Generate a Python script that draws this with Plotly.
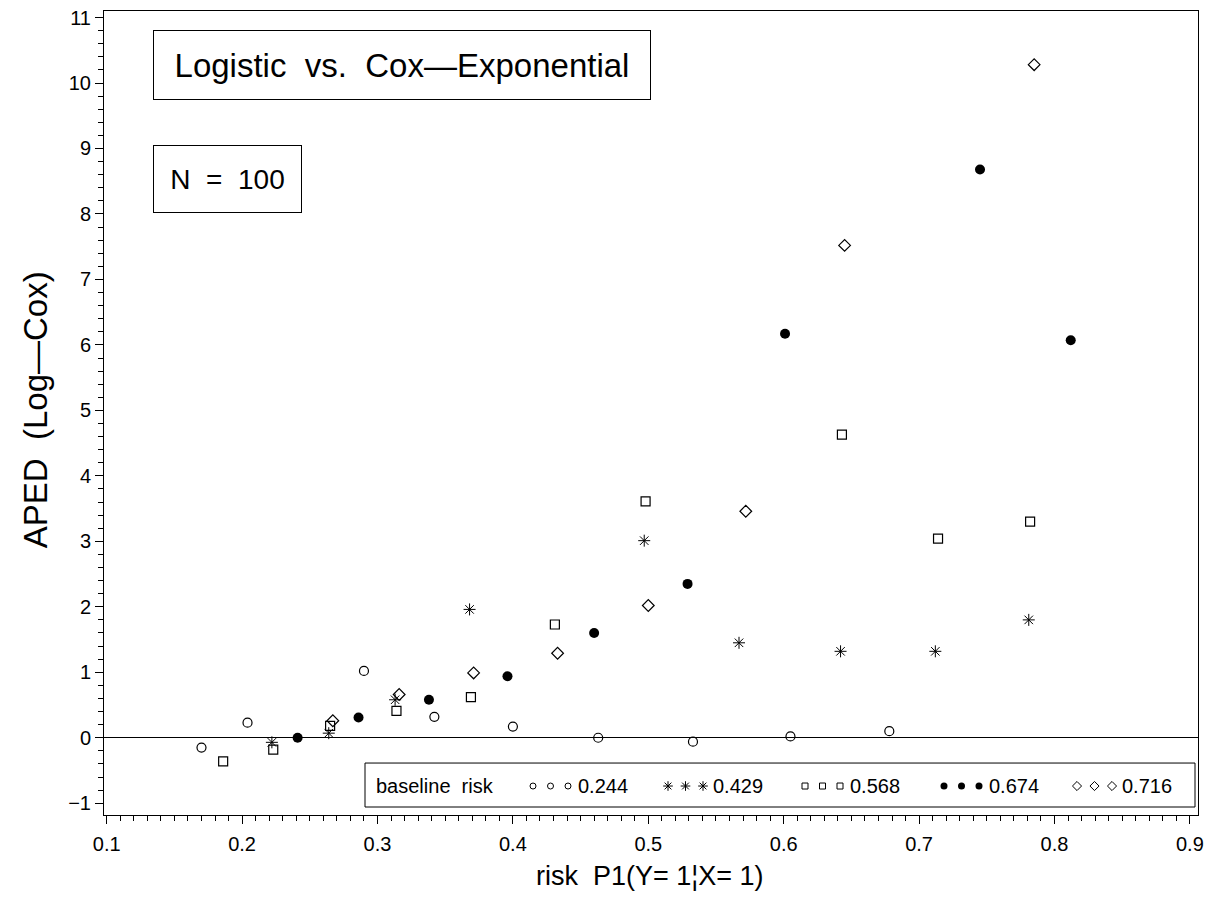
import plotly.graph_objects as go

# ---- data ----
baseline_labels = ["0.244", "0.429", "0.568", "0.674", "0.716"]

risk_0244 = [0.170, 0.204, 0.290, 0.342, 0.400, 0.463, 0.533, 0.605, 0.678]
aped_0244 = [-0.15, 0.23, 1.02, 0.32, 0.17, 0.00, -0.06, 0.02, 0.10]

risk_0429 = [0.222, 0.264, 0.313, 0.368, 0.497, 0.567, 0.642, 0.712, 0.781]
aped_0429 = [-0.07, 0.07, 0.58, 1.96, 3.01, 1.45, 1.32, 1.32, 1.80]

risk_0568 = [0.186, 0.223, 0.265, 0.314, 0.369, 0.431, 0.498, 0.643, 0.714, 0.782]
aped_0568 = [-0.36, -0.18, 0.18, 0.41, 0.62, 1.73, 3.61, 4.63, 3.04, 3.30]

risk_0674 = [0.241, 0.286, 0.338, 0.396, 0.460, 0.529, 0.601, 0.745, 0.812]
aped_0674 = [0.00, 0.31, 0.58, 0.94, 1.60, 2.35, 6.17, 8.68, 6.07]

risk_0716 = [0.267, 0.316, 0.371, 0.433, 0.500, 0.572, 0.645, 0.785]
aped_0716 = [0.26, 0.66, 0.99, 1.29, 2.02, 3.46, 7.52, 10.28]

x_ticks = [0.1, 0.2, 0.3, 0.4, 0.5, 0.6, 0.7, 0.8, 0.9]
y_ticks = list(range(-1, 12))

series = [
    (risk_0244, aped_0244, "circle-open", 9, 1.2),
    (risk_0429, aped_0429, "asterisk-open", 10, 1.0),
    (risk_0568, aped_0568, "square-open", 9, 1.2),
    (risk_0674, aped_0674, "circle", 10, 0),
    (risk_0716, aped_0716, "diamond-open", 9, 1.2),
]

FONT = "Liberation Sans, Arial, Helvetica, sans-serif"
OFF = 8  # page body margin offset
W, H = 1219 - OFF, 906 - OFF
FRAME_L, FRAME_R, FRAME_T, FRAME_B = 104, 1198, 10.5, 815  # in reference pixels
L, R, T, B = FRAME_L - OFF, 1219 - FRAME_R, FRAME_T - OFF, 906 - FRAME_B
pw, ph = W - L - R, H - T - B


def px_x(p):
    return (p - OFF - L) / pw


def px_y(p):
    return (H - B - (p - OFF)) / ph


fig = go.Figure()
for xs, ys, sym, size, lw in series:
    fig.add_trace(go.Scatter(
        x=xs, y=ys, mode="markers", showlegend=False,
        marker=dict(symbol=sym, size=size, color="black",
                    line=dict(color="black", width=lw)),
    ))

# ---- manual legend (three symbols per entry) on an overlay paper-like axis ----
leg_marker_start = [533, 668, 805, 944, 1077]
leg_step = 17.5
leg_sizes = [6, 8, 6, 7, 7]
leg_y_px = 786
for (xs, ys, sym, size, lw), start, lab, ms in zip(series, leg_marker_start, baseline_labels, leg_sizes):
    mx = [px_x(start + k * leg_step) for k in range(3)]
    fig.add_trace(go.Scatter(
        x=mx, y=[px_y(leg_y_px)] * 3, xaxis="x2", yaxis="y2",
        mode="markers", showlegend=False, hoverinfo="skip",
        marker=dict(symbol=sym, size=ms, color="black",
                    line=dict(color="black", width=1 if lw else 0)),
    ))
    fig.add_annotation(xref="paper", yref="paper",
                       x=px_x(start + 2 * leg_step + 8), y=px_y(leg_y_px),
                       xanchor="left", yanchor="middle", showarrow=False,
                       text=lab, font=dict(family=FONT, size=20, color="black"))

fig.add_annotation(xref="paper", yref="paper", x=px_x(374), y=px_y(leg_y_px),
                   xanchor="left", yanchor="middle", showarrow=False,
                   text="baseline  risk", font=dict(family=FONT, size=20, color="black"))
fig.add_shape(type="rect", xref="paper", yref="paper",
              x0=px_x(365), x1=px_x(1195), y0=px_y(807), y1=px_y(763),
              line=dict(color="black", width=1), fillcolor="white", layer="below")

# ---- title boxes ----
fig.add_annotation(xref="paper", yref="paper", x=px_x(153), y=px_y(30),
                   xanchor="left", yanchor="top", showarrow=False,
                   text="Logistic  vs.  Cox\u2014Exponential",
                   width=480, height=52, borderpad=8, bordercolor="black", borderwidth=1,
                   bgcolor="white", align="center", valign="middle",
                   font=dict(family=FONT, size=33, color="black"))
fig.add_annotation(xref="paper", yref="paper", x=px_x(153), y=px_y(145),
                   xanchor="left", yanchor="top", showarrow=False,
                   text="N  =  100",
                   width=131, height=50, borderpad=8, bordercolor="black", borderwidth=1,
                   bgcolor="white", align="center", valign="middle",
                   font=dict(family=FONT, size=28, color="black"))

# ---- axis titles ----
fig.add_annotation(xref="paper", yref="paper", x=px_x(35), y=px_y(410),
                   xanchor="center", yanchor="middle", showarrow=False, textangle=-90,
                   text="APED  (Log\u2014Cox)", font=dict(family=FONT, size=33, color="black"))
fig.add_annotation(xref="paper", yref="paper", x=px_x(650), y=px_y(876),
                   xanchor="center", yanchor="middle", showarrow=False,
                   text="risk  P1(Y= 1\u00a6X= 1)", font=dict(family=FONT, size=27, color="black"))

axis_common = dict(
    showline=True, linecolor="black", linewidth=1, mirror=True,
    ticks="outside", ticklen=8, tickwidth=1, tickcolor="black",
    showgrid=False, automargin=False, ticklabeloverflow="allow",
    tickfont=dict(family=FONT, size=20, color="black"),
)

fig.update_layout(
    width=W, height=H,
    margin=dict(l=L, r=R, t=T, b=B),
    paper_bgcolor="white", plot_bgcolor="white",
    showlegend=False,
    xaxis=dict(range=[0.098, 0.906], tickvals=x_ticks, ticktext=[f"{v:.1f}" for v in x_ticks],
               zeroline=False, ticklabelstandoff=3,
               minor=dict(dtick=0.01, tick0=0.1, ticks="outside", ticklen=5, tickcolor="black", showgrid=False),
               **axis_common),
    yaxis=dict(range=[-1.18, 11.1], tickvals=y_ticks,
               zeroline=True, zerolinecolor="black", zerolinewidth=1,
               minor=dict(dtick=0.2, tick0=0, ticks="outside", ticklen=5, tickcolor="black", showgrid=False),
               **axis_common),
    xaxis2=dict(range=[0, 1], overlaying="x", anchor="y2", visible=False, fixedrange=True),
    yaxis2=dict(range=[0, 1], overlaying="y", anchor="x2", visible=False, fixedrange=True),
)

fig.write_html("out.html")
